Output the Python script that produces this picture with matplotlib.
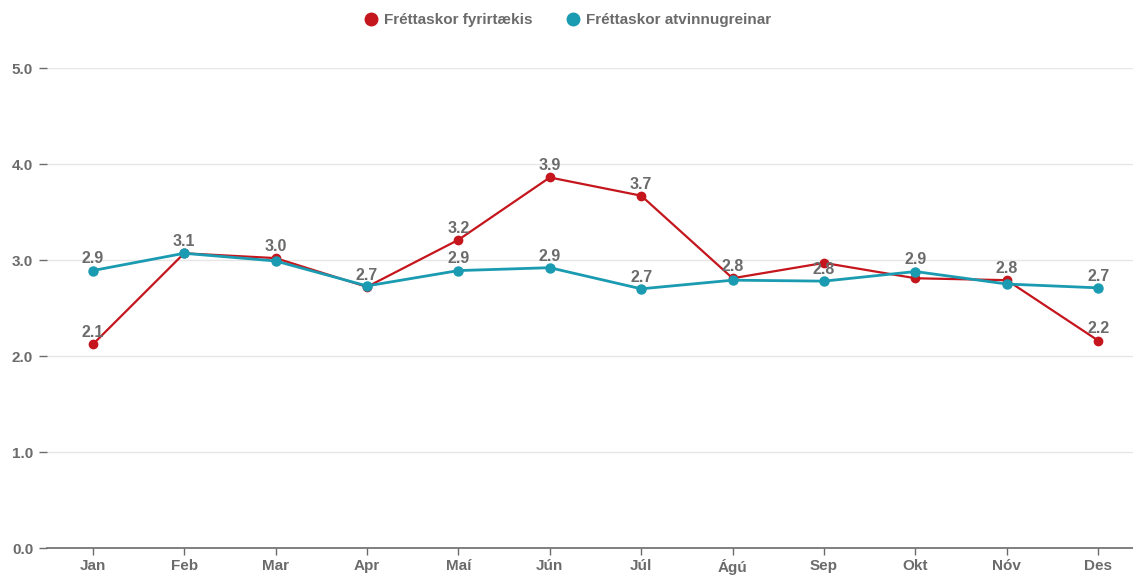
import numpy as np
import matplotlib.pyplot as plt
from matplotlib.lines import Line2D

# Data
months = ['Jan', 'Feb', 'Mar', 'Apr', 'Maí', 'Jún', 'Júl', 'Ágú', 'Sep', 'Okt', 'Nóv', 'Des']
fyrirtaekis = [2.12, 3.07, 3.02, 2.72, 3.21, 3.86, 3.67, 2.81, 2.97, 2.81, 2.79, 2.16]
atvinnugreinar = [2.89, 3.07, 2.99, 2.73, 2.89, 2.92, 2.70, 2.79, 2.78, 2.88, 2.75, 2.71]
# which point labels survive the overlap check
show_fyr = [1, 1, 1, 1, 1, 1, 1, 1, 0, 0, 1, 1]
show_atv = [1, 0, 0, 0, 1, 1, 1, 0, 1, 1, 0, 1]

red = '#c4161c'
teal = '#1a9bb1'
grey = '#6b6b6b'

plt.rcParams['font.family'] = ['Liberation Sans', 'DejaVu Sans']
plt.rcParams['font.weight'] = 'bold'

fig = plt.figure(figsize=(11.33, 5.76), dpi=100)
ax = fig.add_axes([0.0415, 0.0486, 0.9585, 0.8333])

x = np.arange(len(months))
ax.plot(x, fyrirtaekis, color=red, lw=1.6, marker='o', ms=6, zorder=3, clip_on=False)
ax.plot(x, atvinnugreinar, color=teal, lw=2.0, marker='o', ms=6.5, zorder=4, clip_on=False)

for vals, show in ((fyrirtaekis, show_fyr), (atvinnugreinar, show_atv)):
    for i, v in enumerate(vals):
        if show[i]:
            ax.annotate('%.1f' % v, (i, v), xytext=(0, 3), textcoords='offset points',
                        ha='center', va='bottom', color=grey, fontsize=11.5, fontweight='bold', zorder=5)

ax.set_xlim(-0.5, 11.38)
ax.set_ylim(0, 5)
ax.set_yticks([0, 1, 2, 3, 4, 5])
ax.set_yticklabels(['%.1f' % t for t in [0, 1, 2, 3, 4, 5]])
ax.set_xticks(x)
ax.set_xticklabels(months)
ax.grid(axis='y', color='#e6e6e6', lw=1)
ax.set_axisbelow(True)
for s in ('top', 'right', 'left'):
    ax.spines[s].set_visible(False)
ax.spines['bottom'].set_color(grey)
ax.spines['bottom'].set_linewidth(1.2)
ax.tick_params(axis='y', length=6, width=1, color=grey, labelcolor=grey, labelsize=11, pad=4)
ax.tick_params(axis='x', length=5, width=1, color=grey, labelcolor=grey, labelsize=11, pad=3)
for lab in ax.get_xticklabels() + ax.get_yticklabels():
    lab.set_fontweight('bold')

handles = [Line2D([0], [0], marker='o', color=red, lw=0, ms=9, label='Fréttaskor fyrirtækis'),
           Line2D([0], [0], marker='o', color=teal, lw=0, ms=9, label='Fréttaskor atvinnugreinar')]
leg = fig.legend(handles=handles, loc='center', bbox_to_anchor=(0.5, 0.965), ncol=2, frameon=False,
                 fontsize=11, handletextpad=0.3, columnspacing=2.0, handlelength=1.2)
for t in leg.get_texts():
    t.set_color(grey)
    t.set_fontweight('bold')

fig.savefig('out.png', dpi=100)
